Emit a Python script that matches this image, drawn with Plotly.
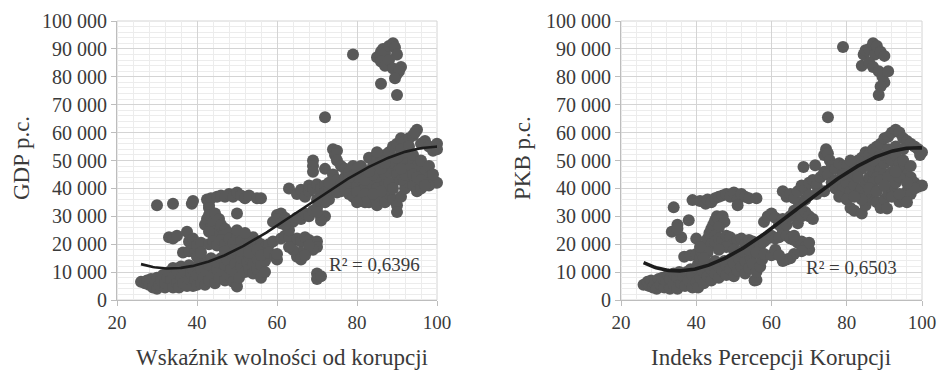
import numpy as np
import plotly.graph_objects as go

# ---------------- data (y in thousands) ----------------
# Left chart: Wskaźnik wolności od korupcji vs GDP p.c.
left_pts = [
 (26,6.5),(27,6),(27.5,7),(28,5.5),(28.5,7.5),(29,4.5),(29.5,6.5),(30,4),(30,8),(30.5,5.5),(31,7),(31.5,9),(32,4.5),(32,6),(32.5,8),(33,10),(33,5),(33.5,7),(34,4.5),(34,11.5),(34.5,9),(35,6),(35,10.5),(35.5,4.5),(36,8),(36,12),(36.5,6),(37,10),(37.5,5),(38,7.5),(38,12.5),(38.5,9.5),(39,5),(39,11),(39.5,7),(40,5.5),(40,9),(40.5,13),(41,6),(41,11),(41.5,8),(42,5.5),(42,14),(42.5,10),(43,7),(43,12.5),(43.5,15),(44,9),(44.5,6),(45,11),(45,13.5),(45.5,8),(46,15),(46.5,10),(47,7),(47,12.5),(47.5,14.5),(48,9),(48.5,11),(49,6.5),(49,15.5),(49.5,13),(50,4.8),(50,10),(50.5,8),(51,12),(51,15),(52,10),(52.5,13.5),(53,11),(53,15.5),(54,9.5),(54,13),(55,11),(55,15),(56,12.5),(56,8),(57,10),(57,14),
 (30,34),(34,34.5),(38.7,34.5),(39,35.5),(33,22.5),(34,22),(35,23),(37.5,24.5),(38,21),(39,22),(36.5,17),(38,17.5),(39.5,17),(40,19.5),(41,20.5),(40,15.5),(41,17),
 (42.5,36),(43,34),(43.5,36.5),(45,37),(46,37.5),(47,37),(48,38),(49,37),(50,38.5),(51,37.5),(52,36.5),(53,37.5),(55,36.5),(56,36.5),(50,31),(43,33),
 (42,27),(42.5,29),(43,30.5),(43.5,26),(44,28),(44.5,31),(45,25),(45.5,29),(46,27),(47,25.5),(44,23.5),(46.5,23),(48,24),(43,24.5),
 (43,20),(44,21),(45,19.5),(46,21.5),(47,20),(48,22),(49,20.5),(50,23),(51,21),(52,19),(53,20.5),(54,22.5),(55,21),(56,20),(57,19),(58,20),(59,21),(49,18),(51,17.5),(53,17),(55,18),(47,17.5),(50,25),(52,24),(56,16),(58,17),
 (59,28),(60,30.5),(61,31),(60,29),(62,29.5),(61,27.5),(59.5,15.5),(60,14.5),(60,16.5),
 (61,22),(62,23),(63,22.5),(64,21.5),(65,22),(66,21),(67,22.5),(68,21.5),(69,20.5),(70,21),(70,19),(69,18),(68,19.5),(66,17),(65,15.5),(66,14.5),(67,16),(64,18),(63,19),(70,9.5),(70,7.5),(71,8.5),(64,28),(65,29.5),(66,29),(67,31),(68,30),(69,32),(70,33),(71,30),(72,30),(71,28.5),(70,31.5),(63,25),(62,27),
 (63,40),(65,38),(66,39.5),(67,37),(68,39),(68,41),(69,40),(70,41.5),(71,38),(71,40),(72,41),(72,38.5),(73,36),(73,39.5),(74,40),(73,42),(69,50),(69,48),(69,46),(72,47),(74,54),(74.5,52),(75,53.5),(75,50),(76,48),(74,45),(75,43),(76,42),(77,44),(76,39),(75,38.5),(72,35),(70,36),
 (77,47),(78,46),(79,48),(80,47),(81,45),(82,46),(83,51),(84,48),(85,50),(86,51),(87,52),(88,53),(89,55),(90,56),(91,58),(92,57),(93,58),(94,59),(95,61),(94.5,60),(96,56),(97,57),(98,55),(99,53.5),(100,56),(100,54),
 (77,40),(78,42),(79,39),(80,41),(81,43),(82,40),(83,42),(84,41),(85,44),(86,43),(87,45),(88,46),(89,47),(90,48),(91,50),(92,49),(93,51),(94,50),(95,48),(96,47),(97,46),(98,44),(99,43),(100,42),
 (78,38),(79,37),(80,38.5),(81,36),(82,38),(83,35),(84,36),(85,34),(86,37),(87,35),(88,38),(89,36),(90,34),(90,31.5),(91,37),(92,40),(93,42),(94,41),(95,39),(96,40),(97,42),(98,41),
 (80,44),(82,43),(84,45),(86,47),(88,49),(90,45),(91,43),(92,45),(93,47),(94,45),(95,44),(96,43),(97,41),(85,40),(87,41),(89,42),(83,46),(81,48),(78,44),(88,42),(90,51),(92,53),(94,52),(96,50),(98,48),(99,45),(89,40),(91,47),(86,39),(84,38),(82,35),(80,35),(85,53),(87,49),(91,54),(93,55),
 (79,88),(85,87),(86,89),(86.5,90),(87,88.5),(88,91),(89,92),(89.5,90.5),(90,88),(86,85.5),(87,84),(88,86),(89,83),(90,81),(91,83.5),(90.5,82),(89.5,79.5),(86,77.5),(90,73.5),(72,65.5),
]
# Right chart: Indeks Percepcji Korupcji vs PKB p.c.
right_pts = [
 (26,5.5),(27,6.5),(27.5,5),(28,7),(28.5,4.5),(29,6),(29.5,4),(30,7.5),(30.5,5.5),(31,8),(31.5,4.5),(32,6.5),(32.5,9),(33,4),(33,7.5),(34,5.5),(34,9.5),(35,4),(35,8),(35.5,10),(36,6),(36.5,8.5),(37,5),(37.5,10),(38,7),(38.5,11),(39,4.5),(39,9),(40,6.5),(40,11.5),(40.5,4.5),(41,8),(41.5,12),(42,6),(42,10),(43,8.5),(43,13),(44,7),(44,11),(45,9.5),(45,14),(46,8),(46,12),(47,10.5),(47.5,14),(48,9),(48,12.5),(49,11),(49.5,15),(50,8.5),(50,13),(51,10.5),(51.5,14.5),(52,12),(53,9.5),(53,14),(54,11.5),(54.5,15),(55,13),(55.5,7),(56,7.2),(56,10),(57,12),(57.5,14.5),
 (34,33.2),(35,27),(33.5,24.5),(36,22.5),(38,28.6),(39,35.8),(40,22),(36.8,15.5),(38.5,16),(40,16.5),(35,25.5),
 (41,35.5),(42.5,34.5),(43,36),(44,35),(45,36.5),(46,37),(47,37.5),(48,38),(49,37),(50,38.5),(51,36),(52,38),(53,37),(54,36.5),(56,36.5),(51,34),
 (40.5,13),(41,15),(41.5,17),(42,18.5),(42.5,20),(43,22),(43.5,24),(44,25.5),(44.5,27),(45,28.5),(45.5,30),(46,29),(47,30),(47.5,28),(46,26),(45,23),(44,20),(43,17),(42,15),(41,19),
 (45,21),(46,22),(47,21.5),(48,23),(49,22.5),(50,20.5),(51,21.5),(52,22),(53,20),(54,21.5),(55,21),(56,20),(57,19.5),(58,21),(59,22),(60,23),(61,22),(62,22.5),(48,19),(50,18),(52,17.5),(54,18),(56,17),(58,16.5),(60,16),(61,18),(46,18),
 (58,28),(59,30),(60,31),(61,29.5),(62,27),(63,25),(64,23),(65,22),(66,21.5),(67,20.5),(68,21),(69,19),(70,18),(70,20.5),(68,17.5),(66,16.5),(65,15),(64,14.5),(63,14),(62,16),(66,23),(67,27.5),(65,30),(66,32),(67,33),(68,30),(69,31.5),(70,30),(71,29),(64,27),(63,29),(68,35),(69,36),
 (63,39),(64,37),(65,38),(66,36.5),(67,39),(68,41),(68.5,47.7),(69,40),(70,42),(71,43),(71.6,48.3),(72,41),(73,44),(74,46),(74,52),(74.5,54),(75,52.5),(75.5,50),(76,48),(75,45),(76,42),(77,40),(74,39),(72,38),(70,37.5),
 (77,47),(78,49),(79,48),(80,46),(81,44),(82,45),(83,50),(84,51),(85,53),(86,52),(87,54),(88,55),(89,56),(90,58),(91,58.5),(92,60),(93,61),(94,60),(95,58),(96,57),(97,56),(98,55),(99,54),(100,53),(99.5,52),
 (77,43),(78,41),(79,40),(80,42),(81,39),(82,41),(83,38),(84,40),(85,42),(86,44),(87,46),(88,48),(89,47),(90,49),(91,51),(92,50),(93,52),(94,49),(95,47),(96,45),(97,44),(98,42),(99,40.6),(100,41),
 (78,37),(80,36),(81,33),(82,32),(84,31),(85,34),(86,36),(87,38),(88,35),(89,33),(90,36),(90.7,32.8),(91,38),(92,40),(93,42),(94,35.2),(95,37),(96,39),(97,38),(98,40),
 (80,48),(82,49),(84,47),(86,48),(88,44),(90,45),(92,46),(94,44),(96,42),(83,44),(85,38),(87,42),(89,43),(91,44),(93,46),(95,50),(97,48),(79,45),(81,50),(86,40),(88,39),(90,41),(92,37),(94,38),(96,35),(84,36),(82,37),(87,50),(89,52),(91,54),(93,55),(95,54),
 (79,90.7),(84,84),(84.5,88),(85,89.5),(86,90),(87,92),(87.5,88),(88,91),(89,89),(90,87.5),(86,85),(87,83.5),(88.5,82),(89.5,80),(90,78),(91,82),(89,76.5),(88.5,73.5),(75,65.5),
]
# Trend curves (x, y in thousands)
trend_left_x = [26, 30, 33, 40, 50, 60, 70, 80, 90, 100]
trend_left_y = [12.8, 11.7, 11.2, 12.5, 18.5, 26.2, 36.4, 45.3, 52.3, 54.9]
trend_right_x = [26, 30, 35, 40, 50, 60, 70, 80, 90, 100]
trend_right_y = [13.1, 11.3, 10.7, 11.6, 16.7, 25.0, 35.8, 46.0, 52.7, 54.3]

r2_left = "R² = 0,6396"
r2_right = "R² = 0,6503"
x_titles = ["Wskaźnik wolności od korupcji", "Indeks Percepcji Korupcji"]
y_titles = ["GDP p.c.", "PKB p.c."]

# ---------------- figure ----------------
W, H = 937, 371
FONT = "Liberation Serif"
TXT = "#3a3a3a"
PT = "#595959"

fig = go.Figure()

def add_panel(pts, tx, ty, xa, ya, lw):
    xs = [p[0] for p in pts]
    ys = [p[1] * 1000 for p in pts]
    fig.add_trace(go.Scatter(x=xs, y=ys, mode="markers", xaxis=xa, yaxis=ya,
                             marker=dict(size=12, color=PT, line=dict(width=0)),
                             cliponaxis=False, showlegend=False, hoverinfo="skip"))
    c = np.polyfit(tx, np.array(ty) * 1000, 3)
    xx = np.linspace(min(tx), max(tx), 200)
    fig.add_trace(go.Scatter(x=xx, y=np.polyval(c, xx), mode="lines", xaxis=xa, yaxis=ya,
                             line=dict(color="#1c1c1c", width=lw),
                             cliponaxis=False, showlegend=False, hoverinfo="skip"))

add_panel(left_pts, trend_left_x, trend_left_y, "x", "y", 2.6)
add_panel(right_pts, trend_right_x, trend_right_y, "x2", "y2", 3.6)

ydom = [71 / H, 350 / H]
xdom1 = [117 / W, 437 / W]
xdom2 = [621 / W, 922 / W]

def xaxis(dom):
    return dict(domain=dom, range=[20, 100], tickvals=[20, 40, 60, 80, 100],
                automargin=False,
                showgrid=True, gridcolor="#d4d4d4", gridwidth=1,
                minor=dict(dtick=4, tick0=20, showgrid=True, gridcolor="#ececec", gridwidth=1),
                showline=True, linecolor="#bdbdbd", linewidth=1,
                ticks="outside", ticklen=5, tickcolor="#bdbdbd",
                tickfont=dict(family=FONT, size=19, color=TXT),
                zeroline=False, fixedrange=True)

def yaxis(anchor):
    return dict(domain=ydom, range=[0, 100000], dtick=10000, tick0=0, tickformat=",",
                anchor=anchor, automargin=False,
                showgrid=True, gridcolor="#d4d4d4", gridwidth=1,
                minor=dict(dtick=2000, showgrid=True, gridcolor="#ececec", gridwidth=1),
                showline=True, linecolor="#bdbdbd", linewidth=1,
                ticks="outside", ticklen=5, tickcolor="#bdbdbd",
                tickfont=dict(family=FONT, size=20, color=TXT),
                zeroline=False, fixedrange=True)

fig.update_layout(
    width=W, height=H, autosize=False,
    margin=dict(l=0, r=0, t=0, b=0, pad=0),
    paper_bgcolor="white", plot_bgcolor="white",
    separators=", ",
    xaxis=dict(xaxis(xdom1), anchor="y"),
    yaxis=yaxis("x"),
    xaxis2=dict(xaxis(xdom2), anchor="y2"),
    yaxis2=yaxis("x2"),
    font=dict(family=FONT, color=TXT),
)

for xa, ya in [("x", "y"), ("x2", "y2")]:
    fig.add_shape(type="rect", xref=f"{xa} domain", yref=f"{ya} domain", x0=0, x1=1, y0=0, y1=1,
                  line=dict(color="#d4d4d4", width=1), layer="below")

ann = []
ann.append(dict(x=72.5, y=12900, xref="x", yref="y", text=r2_left, showarrow=False,
                xanchor="left", yanchor="middle", font=dict(family=FONT, size=19, color=TXT)))
ann.append(dict(x=68.6, y=11800, xref="x2", yref="y2", text=r2_right, showarrow=False,
                xanchor="left", yanchor="middle", font=dict(family=FONT, size=19, color=TXT)))
ann.append(dict(x=282 / W, y=1 - 357 / H, xref="paper", yref="paper", text=x_titles[0], showarrow=False,
                xanchor="center", yanchor="middle", font=dict(family=FONT, size=23, color=TXT)))
ann.append(dict(x=771 / W, y=1 - 357 / H, xref="paper", yref="paper", text=x_titles[1], showarrow=False,
                xanchor="center", yanchor="middle", font=dict(family=FONT, size=23, color=TXT)))
ann.append(dict(x=21 / W, y=1 - 158 / H, xref="paper", yref="paper", text=y_titles[0], showarrow=False,
                textangle=-90, xanchor="center", yanchor="middle", font=dict(family=FONT, size=23, color=TXT)))
ann.append(dict(x=522 / W, y=1 - 158 / H, xref="paper", yref="paper", text=y_titles[1], showarrow=False,
                textangle=-90, xanchor="center", yanchor="middle", font=dict(family=FONT, size=23, color=TXT)))
fig.update_layout(annotations=ann)

fig.write_html("out.html",
               config={"displayModeBar": False, "staticPlot": True},
               post_script="document.documentElement.style.margin='0';document.body.style.margin='0';"
                           "document.body.style.overflow='hidden';")
